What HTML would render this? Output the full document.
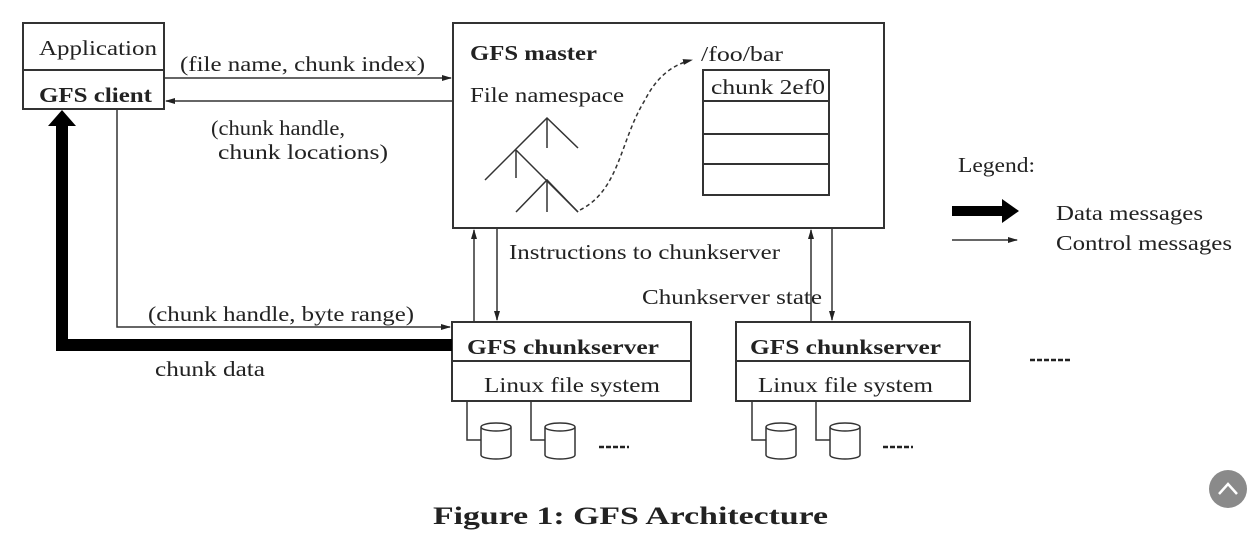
<!DOCTYPE html>
<html><head><style>
body{margin:0;background:#fff;}
svg text{font-family:"Liberation Serif",serif;fill:#222;}
</style></head><body>
<svg width="1247" height="534" viewBox="0 0 1247 534" xmlns="http://www.w3.org/2000/svg">
<defs>
<marker id="a" markerWidth="10" markerHeight="8" refX="9" refY="4" orient="auto" markerUnits="userSpaceOnUse"><path d="M0,1 L10,4 L0,7 Z" fill="#222"/></marker>
</defs>
<g stroke="#333" stroke-width="2" fill="none">
<rect x="23" y="23" width="141" height="86"/>
<line x1="23" y1="70" x2="164" y2="70"/>
<rect x="453" y="23" width="431" height="205"/>
<rect x="452" y="322" width="239" height="79"/>
<line x1="452" y1="361" x2="691" y2="361"/>
<rect x="736" y="322" width="234" height="79"/>
<line x1="736" y1="361" x2="970" y2="361"/>
<rect x="703" y="70" width="126" height="125"/>
<line x1="703" y1="101" x2="829" y2="101"/>
<line x1="703" y1="134" x2="829" y2="134"/>
<line x1="703" y1="164" x2="829" y2="164"/>
</g>
<g stroke="#333" stroke-width="1.5" fill="none">
<line x1="164" y1="78" x2="451" y2="78" marker-end="url(#a)"/>
<line x1="452" y1="101" x2="166" y2="101" marker-end="url(#a)"/>
<polyline points="117,109 117,327 450,327" marker-end="url(#a)"/>
<line x1="474" y1="322" x2="474" y2="230" marker-end="url(#a)"/>
<line x1="497" y1="229" x2="497" y2="320" marker-end="url(#a)"/>
<line x1="811" y1="322" x2="811" y2="230" marker-end="url(#a)"/>
<line x1="832" y1="229" x2="832" y2="320" marker-end="url(#a)"/>
<line x1="952" y1="240" x2="1017" y2="240" marker-end="url(#a)"/>
<polyline points="485,180 547,118 578,148"/>
<line x1="547" y1="118" x2="547" y2="148"/>
<line x1="516" y1="150" x2="516" y2="178"/>
<polyline points="516,150 578,212"/>
<polyline points="516,212 547,180 578,212"/>
<line x1="547" y1="180" x2="547" y2="212"/>
<path d="M580,210 C620,190 620,140 645,100 C655,80 670,65 692,60" stroke-dasharray="4,3" marker-end="url(#a)"/>
</g>
<polyline points="452,345 62,345 62,122" stroke="#000" stroke-width="12" fill="none"/>
<path d="M48,126 L62,110 L76,126 Z" fill="#000"/>
<line x1="952" y1="211" x2="1004" y2="211" stroke="#000" stroke-width="10"/>
<path d="M1002,199 L1019,211 L1002,223 Z" fill="#000"/>
<g stroke="#333" stroke-width="1.5" fill="#fff">
<polyline points="467,401 467,440 481,440" fill="none"/>
<polyline points="531,401 531,440 545,440" fill="none"/>
<polyline points="752,401 752,440 766,440" fill="none"/>
<polyline points="816,401 816,440 830,440" fill="none"/>
<path d="M481,427 L481,455 A15,4 0 0 0 511,455 L511,427 A15,4 0 0 0 481,427 A15,4 0 0 0 511,427"/>
<path d="M545,427 L545,455 A15,4 0 0 0 575,455 L575,427 A15,4 0 0 0 545,427 A15,4 0 0 0 575,427"/>
<path d="M766,427 L766,455 A15,4 0 0 0 796,455 L796,427 A15,4 0 0 0 766,427 A15,4 0 0 0 796,427"/>
<path d="M830,427 L830,455 A15,4 0 0 0 860,455 L860,427 A15,4 0 0 0 830,427 A15,4 0 0 0 860,427"/>
</g>
<g stroke="#222" stroke-width="2.5" stroke-dasharray="5,2">
<line x1="599" y1="447" x2="629" y2="447"/>
<line x1="883" y1="447" x2="913" y2="447"/>
<line x1="1030" y1="360" x2="1072" y2="360"/>
</g>
<g font-size="21" lengthAdjust="spacingAndGlyphs">
<text x="39" y="55" textLength="118" lengthAdjust="spacingAndGlyphs">Application</text>
<text x="39" y="102" font-weight="bold" textLength="113" lengthAdjust="spacingAndGlyphs">GFS client</text>
<text x="180" y="71" textLength="245" lengthAdjust="spacingAndGlyphs">(file name, chunk index)</text>
<text x="211" y="135" textLength="134" lengthAdjust="spacingAndGlyphs">(chunk handle,</text>
<text x="218" y="159" textLength="170" lengthAdjust="spacingAndGlyphs">chunk locations)</text>
<text x="470" y="60" font-weight="bold" textLength="127" lengthAdjust="spacingAndGlyphs">GFS master</text>
<text x="470" y="102" textLength="154" lengthAdjust="spacingAndGlyphs">File namespace</text>
<text x="701" y="61" textLength="82" lengthAdjust="spacingAndGlyphs">/foo/bar</text>
<text x="711" y="94" textLength="114" lengthAdjust="spacingAndGlyphs">chunk 2ef0</text>
<text x="509" y="259" textLength="271" lengthAdjust="spacingAndGlyphs">Instructions to chunkserver</text>
<text x="642" y="304" textLength="180" lengthAdjust="spacingAndGlyphs">Chunkserver state</text>
<text x="148" y="321" textLength="266" lengthAdjust="spacingAndGlyphs">(chunk handle, byte range)</text>
<text x="155" y="376" textLength="110" lengthAdjust="spacingAndGlyphs">chunk data</text>
<text x="467" y="354" font-weight="bold" textLength="192" lengthAdjust="spacingAndGlyphs">GFS chunkserver</text>
<text x="484" y="392" textLength="176" lengthAdjust="spacingAndGlyphs">Linux file system</text>
<text x="750" y="354" font-weight="bold" textLength="191" lengthAdjust="spacingAndGlyphs">GFS chunkserver</text>
<text x="758" y="392" textLength="175" lengthAdjust="spacingAndGlyphs">Linux file system</text>
<text x="958" y="172" textLength="77" lengthAdjust="spacingAndGlyphs">Legend:</text>
<text x="1056" y="220" textLength="147" lengthAdjust="spacingAndGlyphs">Data messages</text>
<text x="1056" y="250" textLength="176" lengthAdjust="spacingAndGlyphs">Control messages</text>
</g>
<text x="433" y="524" font-size="25" font-weight="bold" textLength="395" lengthAdjust="spacingAndGlyphs">Figure 1:  GFS Architecture</text>
<circle cx="1228" cy="489" r="19" fill="#8a8a8a"/>
<polyline points="1219,494 1228,484 1237,494" stroke="#fff" stroke-width="2.5" fill="none"/>
</svg>
</body></html>
